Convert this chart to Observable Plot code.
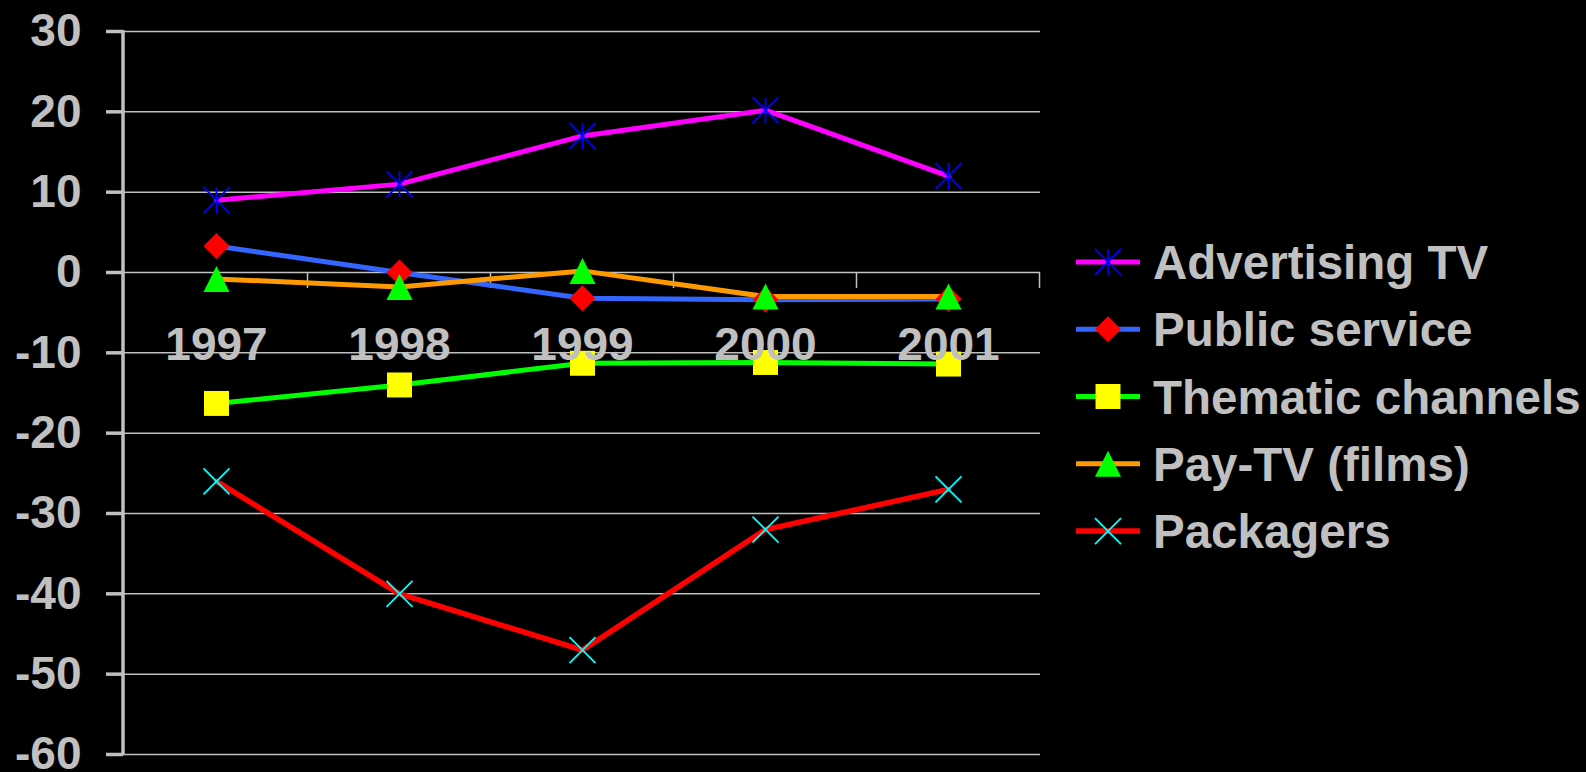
<!DOCTYPE html>
<html>
<head>
<meta charset="utf-8">
<script src="https://cdn.jsdelivr.net/npm/d3@7"></script>
<script src="https://cdn.jsdelivr.net/npm/@observablehq/plot@0.6"></script>
<style>
  html, body { margin: 0; padding: 0; background: #000; }
  #chart svg { display: block; }
</style>
</head>
<body>
<div id="chart"></div>
<script>
// Year-on-year change by channel type, 1997–2001
const years = ["1997", "1998", "1999", "2000", "2001"];
const seriesNames = ["Advertising TV", "Public service", "Thematic channels", "Pay-TV (films)", "Packagers"];
const advertisingTV = [9, 11, 17, 20.2, 12];
const publicService = [3.3, 0, -3.2, -3.4, -3.3];
const thematicChannels = [-16.3, -14, -11.3, -11.2, -11.4];
const payTV = [-0.8, -1.8, 0.2, -3, -3];
const packagers = [-26, -40, -47, -32, -27];
const yTicks = [30, 20, 10, 0, -10, -20, -30, -40, -50, -60];
const xAxisAt = 0; // category axis crosses the value axis at zero

const seriesValues = [advertisingTV, publicService, thematicChannels, payTV, packagers];

// Custom marker shapes
const starSymbol = {draw(ctx, size) { const r = Math.sqrt(size / Math.PI);
  ctx.moveTo(0, -r); ctx.lineTo(0, r); ctx.moveTo(-r, -r); ctx.lineTo(r, r); ctx.moveTo(-r, r); ctx.lineTo(r, -r); }};
const crossSymbol = {draw(ctx, size) { const r = Math.sqrt(size / Math.PI);
  ctx.moveTo(-r, -r); ctx.lineTo(r, r); ctx.moveTo(-r, r); ctx.lineTo(r, -r); }};
const diamondSymbol = {draw(ctx, size) { const r = Math.sqrt(size / Math.PI);
  ctx.moveTo(0, -r); ctx.lineTo(r, 0); ctx.lineTo(0, r); ctx.lineTo(-r, 0); ctx.closePath(); }};
const squareSymbol = {draw(ctx, size) { const r = Math.sqrt(size / Math.PI) * 0.96;
  ctx.rect(-r, -r, 2 * r, 2 * r); }};
const triangleSymbol = {draw(ctx, size) { const r = Math.sqrt(size / Math.PI);
  ctx.moveTo(0, -r); ctx.lineTo(r, r); ctx.lineTo(-r, r); ctx.closePath(); }};

const styles = [
  {line: "#FF00FF", width: 5, symbol: starSymbol, fill: "none", stroke: "#0000FF", sw: 1.8},
  {line: "#3366FF", width: 5, symbol: diamondSymbol, fill: "#FF0000", stroke: "none", sw: 0},
  {line: "#00FF00", width: 5, symbol: squareSymbol, fill: "#FFFF00", stroke: "none", sw: 0},
  {line: "#FF9900", width: 5, symbol: triangleSymbol, fill: "#00FF00", stroke: "none", sw: 0},
  {line: "#FF0000", width: 5.5, symbol: crossSymbol, fill: "none", stroke: "#00FFFF", sw: 1.8}
];

const rows = seriesNames.flatMap((name, i) =>
  years.map((year, j) => ({series: name, year, value: seriesValues[i][j]})));

const font = "'Liberation Sans', Arial, sans-serif";
const grey = "#C0C0C0";
const markerR = 13;

// Value axis line and category boundary ticks
function axisLines(index, scales, values, dims) {
  const x = scales.x, y = scales.y;
  const step = x(years[1]) - x(years[0]);
  const g = d3.create("svg:g").attr("stroke", grey);
  g.append("line")
    .attr("x1", dims.marginLeft).attr("x2", dims.marginLeft)
    .attr("y1", y(yTicks[0]) - 1).attr("y2", y(yTicks[yTicks.length - 1]) + 1)
    .attr("stroke-width", 3.5);
  for (const yr of years) {
    const px = x(yr) + step / 2;
    g.append("line").attr("x1", px).attr("x2", px)
      .attr("y1", y(xAxisAt)).attr("y2", y(xAxisAt) + 16)
      .attr("stroke-width", 1.5);
  }
  return g.node();
}

// Legend to the right of the plot area
function legend(index, scales, values, dims) {
  const g = d3.create("svg:g");
  const x0 = dims.width - dims.marginRight + 36;
  const midY = (dims.marginTop + dims.height - dims.marginBottom) / 2 + 4;
  const gap = 67.3;
  seriesNames.forEach((name, i) => {
    const s = styles[i];
    const cy = midY + (i - (seriesNames.length - 1) / 2) * gap;
    g.append("line").attr("x1", x0).attr("x2", x0 + 64).attr("y1", cy).attr("y2", cy)
      .attr("stroke", s.line).attr("stroke-width", s.width);
    g.append("path").attr("transform", `translate(${x0 + 32},${cy})`)
      .attr("d", d3.symbol(s.symbol, Math.PI * markerR * markerR)())
      .attr("fill", s.fill).attr("stroke", s.stroke).attr("stroke-width", s.sw);
    g.append("text").attr("x", x0 + 77).attr("y", cy).attr("dy", "0.36em")
      .attr("text-anchor", "start")
      .attr("fill", grey).attr("font-size", 47.5).attr("font-weight", "bold")
      .attr("font-family", font).text(name);
  });
  return g.node();
}

const lineMarks = seriesNames.map((name, i) =>
  Plot.line(rows.filter(d => d.series === name), {
    x: "year", y: "value", stroke: styles[i].line, strokeWidth: styles[i].width
  }));
const dotMarks = seriesNames.map((name, i) =>
  Plot.dot(rows.filter(d => d.series === name), {
    x: "year", y: "value", r: markerR, symbol: styles[i].symbol,
    fill: styles[i].fill, stroke: styles[i].stroke, strokeWidth: styles[i].sw
  }));

const chart = Plot.plot({
  width: 1586,
  height: 772,
  marginLeft: 123,
  marginRight: 546,
  marginTop: 31,
  marginBottom: 18,
  style: {background: "#000", color: grey, fontFamily: font, fontWeight: "bold", overflow: "visible"},
  x: {type: "point", domain: years, padding: 0.5, axis: null},
  y: {domain: [-60, 30], axis: null},
  marks: [
    Plot.gridY(yTicks, {stroke: grey, strokeOpacity: 1, strokeWidth: 1.5}),
    Plot.axisY(yTicks, {label: null, tickSize: 17, tickPadding: 25, fontSize: 46, fontWeight: "bold",
      stroke: grey, strokeWidth: 3.5, fill: grey, tickFormat: d => String(d)}),
    axisLines,
    ...lineMarks,
    ...dotMarks,
    Plot.text(years, {x: d => d, y: () => xAxisAt, dy: 73, text: d => d,
      fontSize: 46, fontWeight: "bold", fill: grey}),
    legend
  ]
});

document.getElementById("chart").appendChild(chart);
</script>
</body>
</html>
